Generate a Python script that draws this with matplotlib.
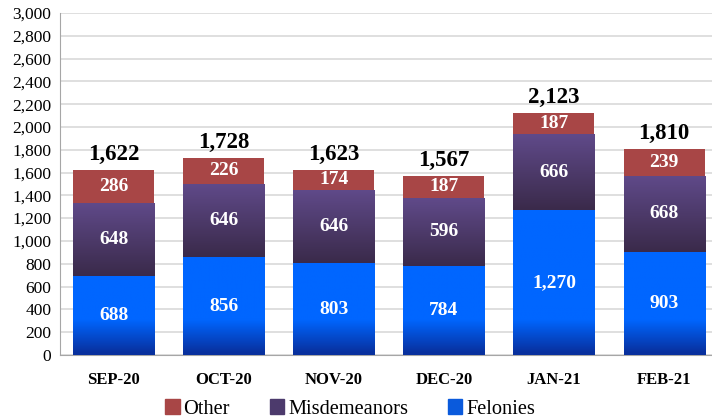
import numpy as np
import matplotlib
matplotlib.use("Agg")
from matplotlib import pyplot as plt
from matplotlib.patches import Patch

months = ["SEP-20", "OCT-20", "NOV-20", "DEC-20", "JAN-21", "FEB-21"]
felonies = [688, 856, 803, 784, 1270, 903]
misdemeanors = [648, 646, 646, 596, 666, 668]
other = [286, 226, 174, 187, 187, 239]
totals = [1622, 1728, 1623, 1567, 2123, 1810]

plt.rcParams["font.family"] = ["Liberation Serif", "DejaVu Serif"]

BLUE_DARK = np.array([8, 48, 158]) / 255
BLUE_BRIGHT = np.array([0, 102, 255]) / 255
PURPLE_TOP = np.array([96, 74, 138]) / 255
PURPLE_BOT = np.array([58, 42, 74]) / 255
RED = "#A84646"


def gradient_fill(ax, rect, colors):
    """Paint a vertical gradient (rows bottom->top) inside a bar patch."""
    x0, y0 = rect.get_x(), rect.get_y()
    w, h = rect.get_width(), rect.get_height()
    img = colors[:, None, :]
    im = ax.imshow(img, extent=(x0, x0 + w, y0, y0 + h), origin="lower",
                   aspect="auto", interpolation="bilinear", zorder=3)
    im.set_clip_path(rect)


def run():
    fig = plt.figure(figsize=(7.12, 4.19), dpi=100)
    ax = fig.add_axes([0.084, 0.153, 0.916, 0.816])
    x = np.arange(len(months))
    w = 0.736

    b1 = ax.bar(x, felonies, w, color="none", zorder=2)
    b2 = ax.bar(x, misdemeanors, w, bottom=felonies, color="none", zorder=2)
    bottoms = np.array(felonies) + np.array(misdemeanors)
    ax.bar(x, other, w, bottom=bottoms, color=RED, zorder=3)

    for r in b1:
        ys = np.linspace(r.get_y(), r.get_y() + r.get_height(), 200)
        t = np.clip((ys - 20) / 290, 0, 1)[:, None]
        gradient_fill(ax, r, BLUE_DARK + (BLUE_BRIGHT - BLUE_DARK) * t)
    for r in b2:
        t = np.linspace(0, 1, 200)[:, None]
        gradient_fill(ax, r, PURPLE_BOT + (PURPLE_TOP - PURPLE_BOT) * t)

    # segment labels
    for i in range(len(months)):
        ax.text(x[i], felonies[i] / 2, f"{felonies[i]:,}", ha="center", va="center",
                color="white", fontsize=14, fontweight="bold", zorder=5)
        ax.text(x[i], felonies[i] + misdemeanors[i] / 2, f"{misdemeanors[i]:,}",
                ha="center", va="center", color="white", fontsize=14,
                fontweight="bold", zorder=5)
        ax.text(x[i], bottoms[i] + other[i] / 2, f"{other[i]:,}", ha="center",
                va="center", color="white", fontsize=14, fontweight="bold", zorder=5)
        ax.text(x[i], totals[i] + 45, f"{totals[i]:,}", ha="center", va="bottom",
                color="black", fontsize=16.5, fontweight="bold", zorder=5)

    ax.set_xlim(-0.49, 5.436)
    ax.set_ylim(0, 3000)
    ax.set_yticks(np.arange(0, 3001, 200))
    ax.set_yticklabels([f"{v:,}" for v in range(0, 3001, 200)], fontsize=12.5)
    ax.set_xticks(x)
    ax.set_xticklabels(months, fontsize=12, fontweight="bold")
    ax.tick_params(axis="both", length=0, pad=6)
    ax.tick_params(axis="x", pad=12)
    ax.yaxis.grid(True, color="#D9D9D9", lw=1.2, zorder=0)
    ax.set_axisbelow(True)
    for s in ["top", "right"]:
        ax.spines[s].set_visible(False)
    ax.spines["left"].set_color("#A6A6A6")
    ax.spines["bottom"].set_color("#A6A6A6")

    handles = [Patch(color=RED, label="Other"),
               Patch(color="#4C3A6C", label="Misdemeanors"),
               Patch(color="#0A5ADC", label="Felonies")]
    fig.legend(handles=handles, loc="center", bbox_to_anchor=(0.492, 0.024), ncol=3,
               frameon=False, fontsize=14.7, handlelength=0.7, handleheight=0.7,
               handletextpad=0.2, columnspacing=1.95)

    fig.savefig("out.png", dpi=100)


if __name__ == "__main__":
    run()
